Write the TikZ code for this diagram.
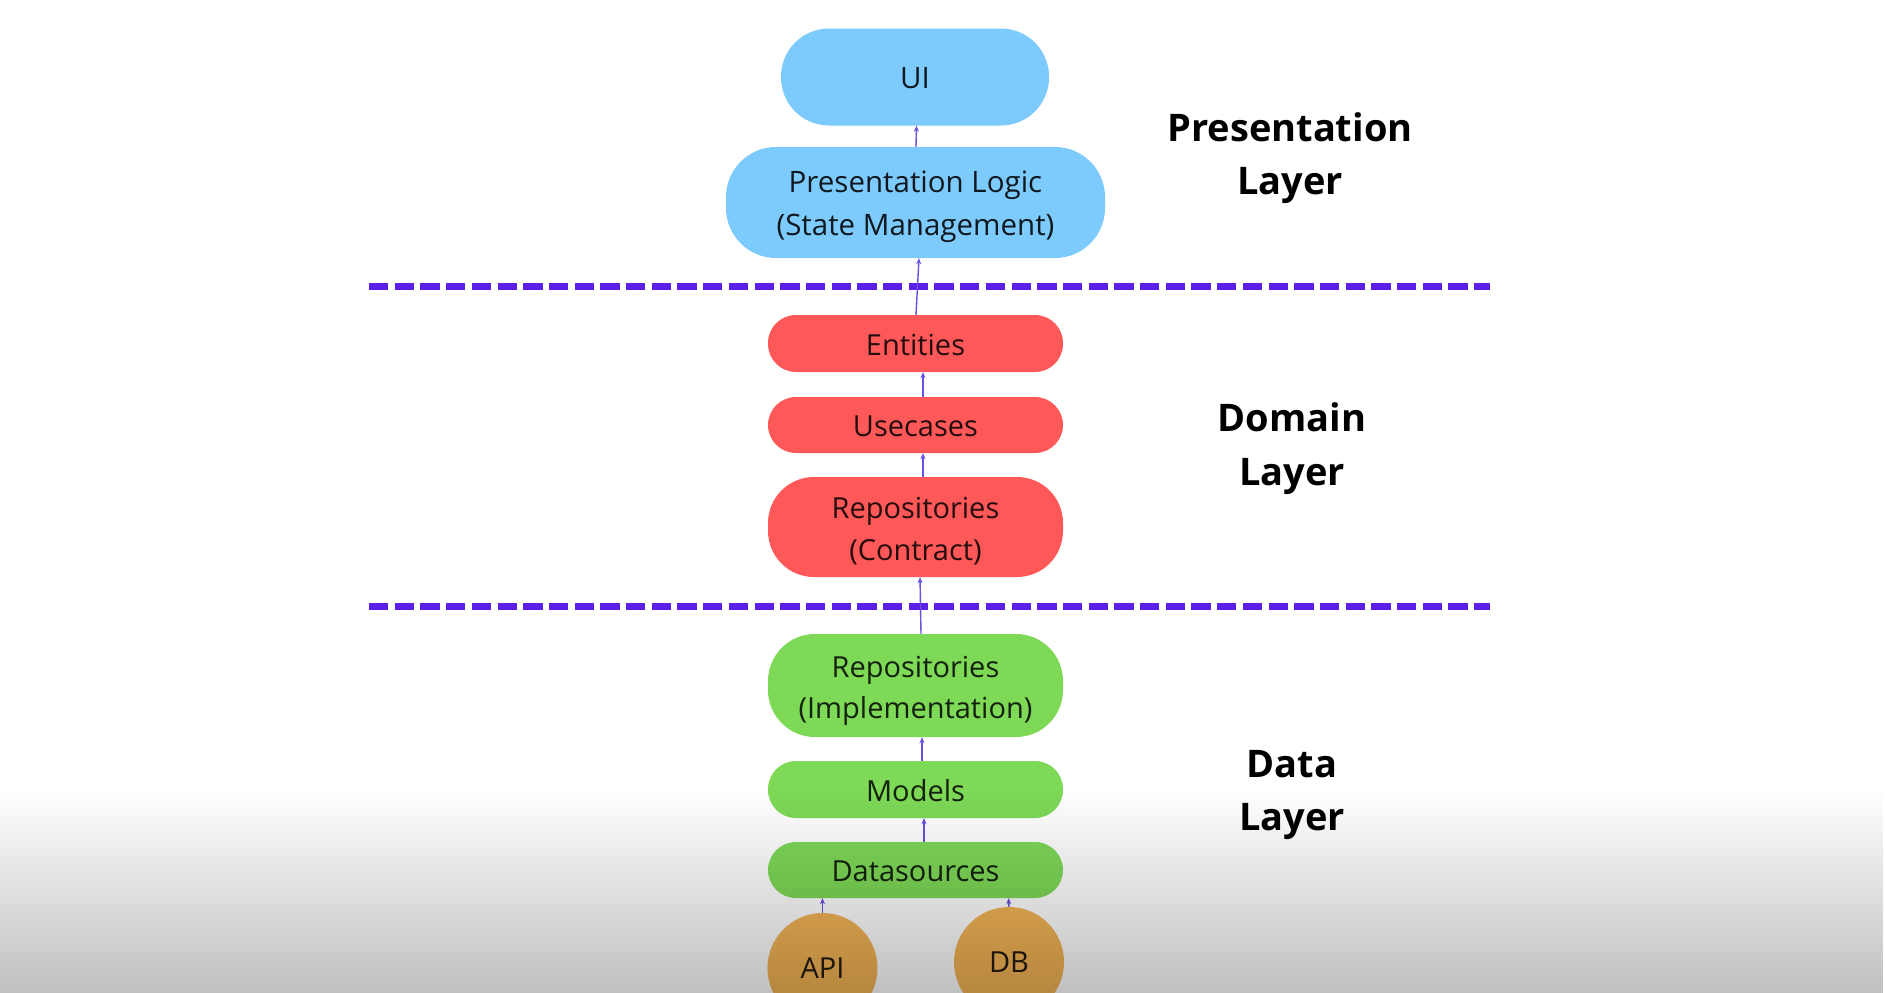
\documentclass[tikz,border=0pt]{standalone}
\usepackage{fontspec}
\setmainfont{Open Sans}
\usetikzlibrary{arrows.meta,fadings}
\definecolor{bluebox}{HTML}{7DCBFD}
\definecolor{redbox}{HTML}{FF5858}
\definecolor{greenbox}{HTML}{7ED957}
\definecolor{orangebox}{HTML}{F4B556}
\definecolor{dashcol}{HTML}{5B1FE6}
\definecolor{arrowcol}{HTML}{6A4FE0}
\tikzfading[name=bottomshade, top color=transparent!100, bottom color=transparent!75]
\newcommand{\twolines}[2]{\begin{tabular}[b]{@{}c@{}}#1\\#2\end{tabular}}
\tikzset{
  pill/.style={rectangle, inner sep=0pt, text depth=0pt},
  bluepill/.style={pill, fill=bluebox, text=bluebox!12!black,
    font=\fontsize{29.5}{43.5}\selectfont},
  redpill/.style={pill, fill=redbox, text=redbox!15!black, minimum width=295pt,
    font=\fontsize{29}{42}\selectfont},
  greenpill/.style={pill, fill=greenbox, text=greenbox!15!black, minimum width=295pt,
    font=\fontsize{29}{41}\selectfont},
  oneline/.style={text height=23.7pt},
  source/.style={circle, inner sep=0pt, minimum size=110pt, fill=orangebox,
    text=orangebox!15!black, font=\fontsize{29}{35}\selectfont},
  layertitle/.style={anchor=base, inner sep=0pt, text=black,
    font=\fontsize{38}{53.5}\selectfont\bfseries},
  divider/.style={draw=dashcol, line width=7pt, dash pattern=on 19.3pt off 6.4pt},
  arr/.style={draw=arrowcol, line width=1.4pt, -{Stealth[length=6pt,width=5pt]}}
}
\begin{document}
\begin{tikzpicture}[x=1pt,y=-1pt]
\fill[white] (0,0) rectangle (1885,993);
\useasboundingbox (0,0) rectangle (1885,993);

% presentation layer
\node[bluepill, text height=23pt, minimum width=268pt, minimum height=97pt, rounded corners=48pt] (ui) at (915,77) {UI};
\node[bluepill, text height=66pt, minimum width=379pt, minimum height=111pt, rounded corners=50pt] (pl) at (915.5,202.5)
  {\twolines{Presentation Logic}{(State Management)}};

% dividers
\coordinate (d1a) at (369,286);
\coordinate (d1b) at (1490,286);
\coordinate (d2a) at (369,606);
\coordinate (d2b) at (1490,606);
\draw[divider] (d1a) -- (d1b);
\draw[divider] (d2a) -- (d2b);

% domain layer
\node[redpill, oneline, minimum height=57pt, rounded corners=28pt] (ent) at (915.5,343.5) {Entities};
\node[redpill, oneline, minimum height=56pt, rounded corners=28pt] (uc) at (915.5,425) {Usecases};
\node[redpill, text height=66pt, minimum height=100pt, rounded corners=46pt] (rc) at (915.5,527)
  {\twolines{Repositories}{(Contract)}};

% data layer
\node[greenpill, text height=65pt, minimum height=103pt, rounded corners=47pt] (ri) at (915.5,685.5)
  {\twolines{Repositories}{(Implementation)}};
\node[greenpill, oneline, minimum height=57pt, rounded corners=28pt] (mod) at (915.5,789.5) {Models};
\node[greenpill, oneline, minimum height=56pt, rounded corners=28pt] (ds) at (915.5,870) {Datasources};
\node[source] (api) at (822.5,968) {API};
\node[source] (db) at (1009,962) {DB};

% connectors
\draw[arr] ([xshift=0.5pt]pl.north) -- ([xshift=1.5pt]ui.south);
\draw[arr] ([xshift=0.5pt]ent.north) -- ([xshift=3.5pt]pl.south);
\draw[arr] ([xshift=7.5pt]uc.north) -- ([xshift=7.5pt]ent.south);
\draw[arr] ([xshift=7.5pt]rc.north) -- ([xshift=7.5pt]uc.south);
\draw[arr] ([xshift=5.5pt]ri.north) -- ([xshift=4.5pt]rc.south);
\draw[arr] ([xshift=6.5pt]mod.north) -- ([xshift=6.5pt]ri.south);
\draw[arr] ([xshift=8.5pt]ds.north) -- ([xshift=8.5pt]mod.south);
\draw[arr] (api.north) -- ([xshift=-93pt]ds.south);
\draw[arr] (db.north) -- ([xshift=93pt]ds.south);

% layer titles
\node[layertitle] (tpres) at (1290,194.5) {\twolines{Presentation}{Layer}};
\node[layertitle] (tdom) at (1292,485) {\twolines{Domain}{Layer}};
\node[layertitle] (tdata) at (1292,830.5) {\twolines{Data}{Layer}};

% bottom shading overlay
\fill[black, path fading=bottomshade, fit fading=true] (0,790) rectangle (1885,993);
\end{tikzpicture}
\end{document}
